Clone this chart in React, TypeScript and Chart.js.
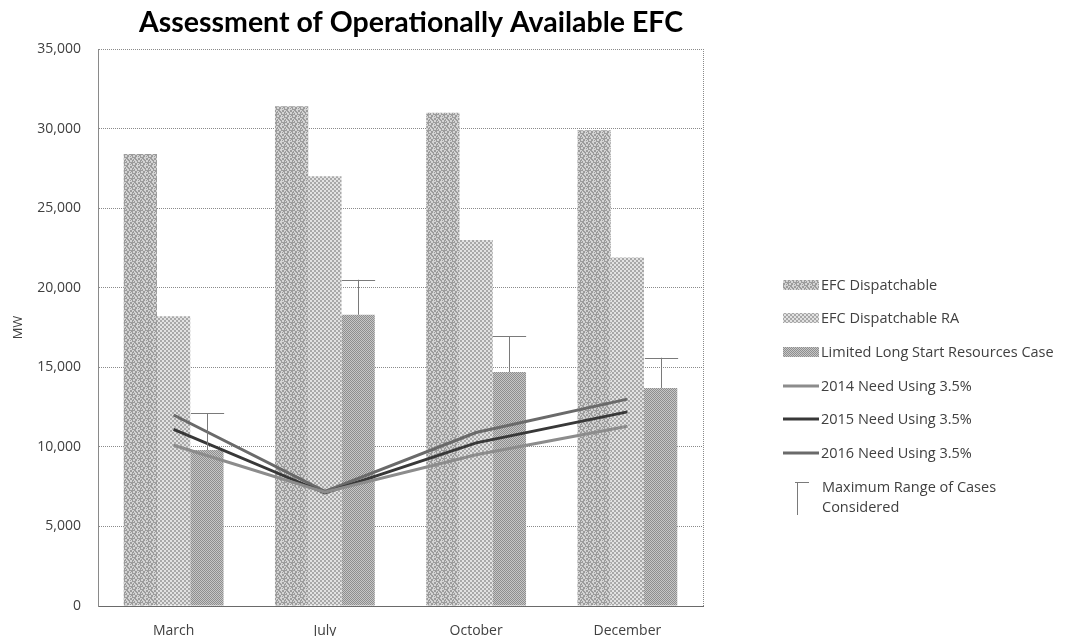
import React, { useEffect, useRef } from "react";
import { Chart, registerables } from "chart.js";

Chart.register(...registerables);

const months = ["March", "July", "October", "December"];
const efcDispatchable = [28400, 31400, 31000, 29900];
const efcDispatchableRA = [18200, 27000, 23000, 21900];
const limitedLongStart = [9800, 18300, 14700, 13700];
const maxRangeOfCases = [12100, 20500, 16950, 15600];
const need2014 = [10100, 7150, 9500, 11300];
const need2015 = [11100, 7100, 10250, 12200];
const need2016 = [12000, 7200, 10900, 13000];
const yTicks = [0, 5000, 10000, 15000, 20000, 25000, 30000, 35000];

const TITLE_FONT = "Lato, 'Open Sans', sans-serif";
const FONT = "'Open Sans', Lato, sans-serif";

// Small halftone-like tile used as a bar fill.
function makePattern(dark: string, light: string, rule: (x: number, y: number) => boolean, size = 8) {
  const c = document.createElement("canvas");
  c.width = size;
  c.height = size;
  const g = c.getContext("2d")!;
  for (let y = 0; y < size; y++) {
    for (let x = 0; x < size; x++) {
      g.fillStyle = rule(x, y) ? dark : light;
      g.fillRect(x, y, 1, 1);
    }
  }
  return g.createPattern(c, "repeat")!;
}

const errorBarPlugin = {
  id: "maxRangeBars",
  afterDatasetsDraw(chart: any) {
    const ctx = chart.ctx;
    const meta = chart.getDatasetMeta(2);
    const y = chart.scales.y;
    ctx.save();
    ctx.strokeStyle = "#7a7a7a";
    ctx.lineWidth = 1;
    meta.data.forEach((bar: any, i: number) => {
      const top = y.getPixelForValue(maxRangeOfCases[i]);
      const x = Math.round(bar.x) + 0.5;
      const half = bar.width / 2;
      ctx.beginPath();
      ctx.moveTo(x, bar.y);
      ctx.lineTo(x, top);
      ctx.moveTo(x - half, Math.round(top) + 0.5);
      ctx.lineTo(x + half, Math.round(top) + 0.5);
      ctx.stroke();
    });
    ctx.restore();
  },
};

const framePlugin = {
  id: "frameAndLegend",
  afterDraw(chart: any) {
    const ctx = chart.ctx;
    const a = chart.chartArea;
    ctx.save();
    // right border of the plot area
    ctx.strokeStyle = "#8a8a8a";
    ctx.setLineDash([1, 1]);
    ctx.lineWidth = 1;
    ctx.beginPath();
    ctx.moveTo(Math.round(a.right) + 0.5, a.top);
    ctx.lineTo(Math.round(a.right) + 0.5, a.bottom);
    ctx.stroke();
    ctx.setLineDash([]);

    // title
    ctx.fillStyle = "#000";
    ctx.font = `bold 28.5px ${TITLE_FONT}`;
    ctx.textAlign = "center";
    ctx.textBaseline = "alphabetic";
    ctx.fillText("Assessment of Operationally Available EFC", 411, 32);

    // legend
    const ds = chart.data.datasets;
    const x0 = 783;
    const sw = 36;
    const tx = 821;
    const ys = [285, 318, 352, 386, 419, 453];
    ctx.font = `14.5px ${FONT}`;
    ctx.textAlign = "left";
    ctx.textBaseline = "middle";
    for (let i = 0; i < 6; i++) {
      const d = ds[i];
      const yy = ys[i];
      if (d.type === "line") {
        ctx.strokeStyle = d.borderColor;
        ctx.lineWidth = 3;
        ctx.beginPath();
        ctx.moveTo(x0, yy);
        ctx.lineTo(x0 + sw, yy);
        ctx.stroke();
      } else {
        ctx.fillStyle = d.backgroundColor;
        ctx.fillRect(x0, yy - 5, sw, 10);
      }
      ctx.fillStyle = "#404040";
      ctx.fillText(d.label, tx, yy + 1);
    }
    ctx.strokeStyle = "#7a7a7a";
    ctx.lineWidth = 1;
    ctx.beginPath();
    ctx.moveTo(795, 482.5);
    ctx.lineTo(809, 482.5);
    ctx.moveTo(797.5, 482);
    ctx.lineTo(797.5, 515);
    ctx.stroke();
    ctx.fillStyle = "#404040";
    ctx.fillText("Maximum Range of Cases", tx + 1, 488);
    ctx.fillText("Considered", tx + 1, 508);
    ctx.restore();
  },
};

export default function App() {
  const ref = useRef<HTMLCanvasElement>(null);

  useEffect(() => {
    const p1 = makePattern("#9c9c9c", "#d4d4d4", (x, y) => (x * 5 + y * 3 + ((x * y) % 3)) % 4 < 2);
    const p2 = makePattern("#a8a8a8", "#e2e2e2", (x, y) => ((x >> 1) + (y >> 1)) % 2 === 0);
    const p3 = makePattern("#8e8e8e", "#c6c6c6", (x, y) => (x + y) % 2 === 0);

    const chart = new Chart(ref.current!, {
      type: "bar",
      data: {
        labels: months,
        datasets: [
          { type: "bar", label: "EFC Dispatchable", data: efcDispatchable, backgroundColor: p1 as any, order: 2 },
          { type: "bar", label: "EFC Dispatchable RA", data: efcDispatchableRA, backgroundColor: p2 as any, order: 2 },
          { type: "bar", label: "Limited Long Start Resources Case", data: limitedLongStart, backgroundColor: p3 as any, order: 2 },
          { type: "line", label: "2014 Need Using 3.5%", data: need2014, borderColor: "#8c8c8c", borderWidth: 3, pointRadius: 0, order: 1 },
          { type: "line", label: "2015 Need Using 3.5%", data: need2015, borderColor: "#383838", borderWidth: 3, pointRadius: 0, order: 1 },
          { type: "line", label: "2016 Need Using 3.5%", data: need2016, borderColor: "#6a6a6a", borderWidth: 3, pointRadius: 0, order: 1 },
        ] as any,
      },
      options: {
        animation: false,
        responsive: false,
        layout: { padding: { left: 0, top: 49, right: 363, bottom: 0 } },
        datasets: { bar: { categoryPercentage: 0.66, barPercentage: 1.0 } } as any,
        plugins: { legend: { display: false }, title: { display: false }, tooltip: { enabled: false } },
        scales: {
          x: {
            grid: { display: false },
            border: { color: "#6a6a6a", dash: [1, 1] },
            ticks: { color: "#404040", font: { family: FONT, size: 14 }, padding: 9 },
            afterFit: (s: any) => { s.height = 30; },
          },
          y: {
            min: 0,
            max: 35000,
            afterBuildTicks: (s: any) => { s.ticks = yTicks.map((v) => ({ value: v })); },
            grid: { color: "#8a8a8a", drawTicks: false },
            border: { color: "#8a8a8a", dash: [1, 1] },
            ticks: {
              color: "#404040",
              font: { family: FONT, size: 14 },
              padding: 17,
              callback: (v: any) => Number(v).toLocaleString("en-US"),
            },
            title: { display: true, text: "MW", color: "#404040", font: { family: FONT, size: 13 }, padding: { top: 10, bottom: 0 } },
            afterFit: (s: any) => { s.width = 98; },
          },
        },
      },
      plugins: [errorBarPlugin, framePlugin],
    });
    return () => chart.destroy();
  }, []);

  return (
    <div style={{ position: "fixed", left: 0, top: 0, width: 1066, height: 636, background: "#fff" }}>
      <canvas ref={ref} width={1066} height={636} style={{ display: "block" }} />
    </div>
  );
}
